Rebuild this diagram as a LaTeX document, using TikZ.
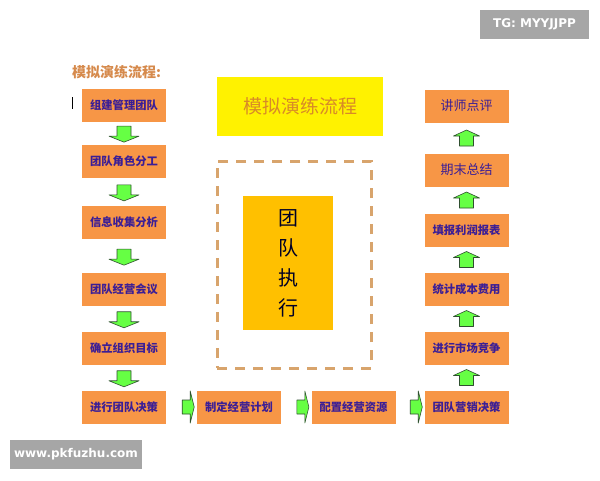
\documentclass[tikz,border=0pt]{standalone}
\usepackage{fontspec}
\newfontfamily\cjk{Noto Sans CJK SC}
\newfontfamily\wmfont{DejaVu Sans}
\usetikzlibrary{calc,positioning}

\definecolor{boxorange}{HTML}{F79646}
\definecolor{boxtext}{HTML}{3B1E96}
\definecolor{headtext}{HTML}{D68A4C}
\definecolor{titletext}{HTML}{D88A28}
\definecolor{execfill}{HTML}{FFC000}
\definecolor{dashcol}{HTML}{D8A46C}
\definecolor{arrowgreen}{HTML}{66FF44}
\definecolor{arrowline}{HTML}{2F4F2F}
\definecolor{wmgrey}{HTML}{A6A6A6}

\begin{document}
\begin{tikzpicture}[x=1pt, y=-1pt
        , every node/.style={ font=\cjk }
        , stepbox/.style={ fill=boxorange, minimum width=84pt, minimum height=33pt,
                           inner sep=0pt, text=boxtext }
        , greenarrow/.style={ fill=arrowgreen, draw=arrowline, line width=.6pt, line join=round }
        , wmark/.style={ fill=wmgrey, text=white, inner sep=0pt,
                         font=\wmfont\bfseries\fontsize{12}{12}\selectfont }
        , darrow/.pic={ \draw[greenarrow] (-7,-8) -- (7,-8) -- (7,2) -- (15,2) -- (0,8)
                            -- (-15,2) -- (-7,2) -- cycle; }
        , uarrow/.pic={ \draw[greenarrow] (-7,8) -- (7,8) -- (7,-2) -- (13,-2) -- (0,-8)
                            -- (-13,-2) -- (-7,-2) -- cycle; }
        , rarrow/.pic={ \draw[greenarrow] (-6,-7) -- (2,-7) -- (2,-16) -- (6,0) -- (2,16)
                            -- (2,7) -- (-6,7) -- cycle; }
        ]
        \useasboundingbox[fill=white] (0,0) rectangle (600,480);

        % heading and cursor mark
        \node[anchor=west, text=headtext, font=\cjk\bfseries\fontsize{14}{14}\selectfont, inner sep=0pt]
            (head) at (72,72) {模拟演练流程:};
        \draw[line width=.8pt] (72.5,97) -- (72.5,109);

        % left column
        \foreach \i/\y/\t in {1/105/组建管理团队, 2/161/团队角色分工, 3/222/信息收集分析,
                              4/289/团队经营会议, 5/348/确立组织目标, 6/407/进行团队决策}
            \node[stepbox, font=\cjk\bfseries\fontsize{11.3}{12}\selectfont] (l\i) at (124,\y) {\t};

        % right column
        \foreach \i/\y/\t/\f/\s in {1/106/讲师点评/\mdseries/13, 2/170/期末总结/\mdseries/13,
                                    3/230/填报利润报表/\bfseries/11.3, 4/289/统计成本费用/\bfseries/11.3,
                                    5/348/进行市场竞争/\bfseries/11.3, 6/407/团队营销决策/\bfseries/11.3}
            \node[stepbox, font=\cjk\f\fontsize{\s}{14}\selectfont] (r\i) at (466.5,\y) {\t};

        % bottom row
        \node[stepbox, font=\cjk\bfseries\fontsize{11.3}{12}\selectfont] (b1) at (239,407) {制定经营计划};
        \node[stepbox, font=\cjk\bfseries\fontsize{11.3}{12}\selectfont] (b2) at (353.5,407) {配置经营资源};

        % arrows
        \foreach \a/\b in {l1/l2, l2/l3, l3/l4, l4/l5, l5/l6}
            \path ($(\a.south)!.55!(\b.north)$) pic {darrow};
        \foreach \a/\b in {r2/r1, r3/r2, r4/r3, r5/r4, r6/r5}
            \path ($(\a.north)!.5!(\b.south)$) pic {uarrow};
        \foreach \a/\b in {l6/b1, b1/b2, b2/r6}
            \path ($(\a.east)!.72!(\b.west)$) pic {rarrow};

        % centre part
        \node[fill=yellow, minimum width=166pt, minimum height=59pt, text=titletext,
              font=\cjk\fontsize{19}{20}\selectfont] (title) at (300,106.5) {模拟演练流程};
        \node[draw=dashcol, line width=3pt, dash pattern=on 10pt off 8pt,
              minimum width=154pt, minimum height=207pt] (frame) at (294,264.5) {};
        \node[fill=execfill, minimum width=90pt, minimum height=134pt, align=center,
              text=black!85!blue, font=\cjk\fontsize{20}{30}\selectfont] (exec) at (288,263)
              {团\\队\\执\\行};

        % watermarks
        \node[wmark, minimum width=109pt, minimum height=29pt] (tg) at (534.5,24.5) {TG: MYYJJPP};
        \node[wmark, minimum width=132pt, minimum height=29pt] (www) at (76,454.5) {www.pkfuzhu.com};
    \end{tikzpicture}
\end{document}
